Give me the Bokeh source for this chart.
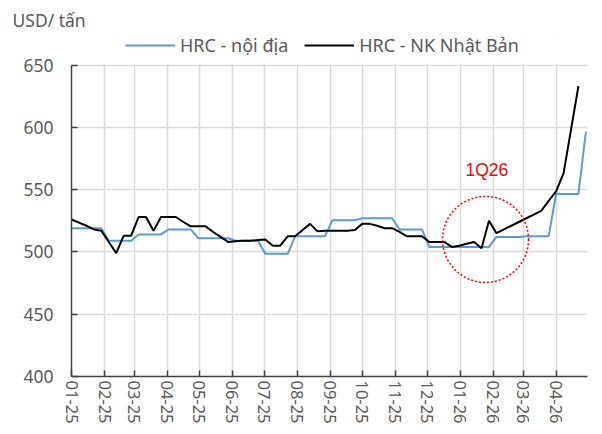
from datetime import datetime, timedelta
from bokeh.plotting import figure
from bokeh.models import (ColumnDataSource, Legend, LegendItem, Label, FixedTicker,
                          DatetimeTickFormatter, Range1d, BoxAnnotation)
from bokeh.embed import file_html
from bokeh.resources import INLINE

# ---------------- data ----------------
start_date = datetime(2025, 1, 1)
week_dates = [start_date + timedelta(days=7 * i) for i in range(70)]

hrc_noi_dia = [519, 519, 519, 519, 519, 509, 509, 509, 509, 514,
               514, 514, 514, 518, 518, 518, 518, 511, 511, 511,
               511, 511, 509, 509, 509, 509, 498.5, 498.5, 498.5, 498.5,
               512.5, 512.5, 512.5, 512.5, 512.5, 525.5, 525.5, 525.5, 525.5, 527,
               527, 527, 527, 527, 518, 518, 518, 518, 504, 504,
               504, 504, 504, 504, 504, 504, 504, 512, 512, 512,
               512, 512.5, 512.5, 512.5, 512.5, 546.5, 546.5, 546.5, 546.5, 596.5]

hrc_nk_nhat_ban = [526, 523.5, 521, 518, 517, 508, 499, 513, 513, 528,
                   528, 517, 528, 528, 528, 524, 520.5, 520.5, 520.5, 516,
                   512, 508, 508.5, 509, 509, 509.5, 510, 505, 505, 512.5,
                   512.5, 517.5, 522.5, 516.5, 517, 517, 517, 517, 517.5, 522.5,
                   522.5, 521, 519, 519, 516, 512.5, 512.5, 512.5, 508, 508,
                   508, 504, 505, 506.5, 508, 503, 525, 515, 518, 521,
                   524, 527, 530, 533, 541, 548.5, 563, 598, 633, float("nan")]

month_ticks = [datetime(2025 + m // 12, m % 12 + 1, 1) for m in range(16)]
y_ticks = [400, 450, 500, 550, 600, 650]
y_min, y_max = 400, 650
series_labels = ["HRC - nội địa", "HRC - NK Nhật Bản"]
unit_label = "USD/ tấn"
note_text = "1Q26"
note_pos = (datetime(2026, 1, 26), 565.5)
circle_center = (datetime(2026, 1, 24, 18), 510)
circle_radius_px = 43
x_start = datetime(2025, 1, 1)
x_end = datetime(2026, 4, 30, 12)

# ---------------- layout constants ----------------
FONT = "Noto Sans"
GRAY = "#595959"
TOP_PAD = 32          # px above the frame (title lives there)
FRAME_TOP_VALUE_PX = 64.5
FRAME_BOTTOM_PX = 376
PX_PER_UNIT = (FRAME_BOTTOM_PX - FRAME_TOP_VALUE_PX) / (y_max - y_min)
y_view_top = y_max + (FRAME_TOP_VALUE_PX - TOP_PAD) / PX_PER_UNIT   # room for legend row

src = ColumnDataSource(dict(date=week_dates, noi=hrc_noi_dia, nk=hrc_nk_nhat_ban))

p = figure(width=602, height=434, x_axis_type="datetime",
           output_backend="svg", toolbar_location=None,
           x_range=Range1d(x_start, x_end), y_range=Range1d(y_min, y_view_top),
           min_border_left=71, min_border_right=15, min_border_top=TOP_PAD,
           min_border_bottom=434 - FRAME_BOTTOM_PX)
p.outline_line_color = None
p.background_fill_color = "white"
p.border_fill_color = "white"

p.title.text = unit_label
p.title.text_font = FONT
p.title.text_font_size = "17.5px"
p.title.text_font_style = "normal"
p.title.text_color = GRAY
p.title.align = "left"
p.title.offset = -59
p.title.standoff = 2

epoch = datetime(1970, 1, 1)
tick_ms = [(d - epoch).total_seconds() * 1000 for d in month_ticks]
p.xaxis.ticker = FixedTicker(ticks=tick_ms)
p.xaxis.formatter = DatetimeTickFormatter(days="%m-%y", months="%m-%y", years="%m-%y",
                                          hours="%m-%y", context=None)
p.xaxis.major_label_orientation = "vertical"
p.yaxis.ticker = FixedTicker(ticks=y_ticks)
p.yaxis.bounds = (y_min, y_max)

for ax in (p.xaxis, p.yaxis):
    ax.axis_line_color = "#404040"
    ax.axis_line_width = 1.5
    ax.major_tick_line_color = "#404040"
    ax.major_tick_line_width = 1.5
    ax.major_tick_out = 0
    ax.major_tick_in = 6
    ax.minor_tick_line_color = None
    ax.major_label_text_font = FONT
    ax.major_label_text_color = GRAY
p.yaxis.major_label_text_font_size = "17.5px"
p.yaxis.major_label_standoff = 18
p.xaxis.major_label_text_font_size = "16.5px"
p.xaxis.major_label_standoff = 4

p.xgrid.grid_line_color = "#d9d9d9"
p.ygrid.grid_line_color = "#d9d9d9"
p.xgrid.grid_line_width = 1.5
p.ygrid.grid_line_width = 1.5

# white band that hides grid above the top value (legend row area)
p.add_layout(BoxAnnotation(bottom=y_max + 0.6, fill_color="white", fill_alpha=1,
                           line_color=None, level="underlay"))

r_noi = p.line("date", "noi", source=src, line_color="#5B9BD5", line_width=2)
r_nk = p.line("date", "nk", source=src, line_color="black", line_width=2)

legend = Legend(items=[LegendItem(label=series_labels[0], renderers=[r_noi]),
                       LegendItem(label=series_labels[1], renderers=[r_nk])],
                location=(54, 319), orientation="horizontal",
                border_line_color=None, background_fill_alpha=0,
                padding=0, margin=0, spacing=16, label_standoff=5,
                glyph_width=50, glyph_height=20, label_height=20,
                label_text_font=FONT, label_text_font_size="18px",
                label_text_color=GRAY)
p.add_layout(legend, "center")

p.circle(x=[circle_center[0]], y=[circle_center[1]], radius=circle_radius_px,
         radius_units="screen", fill_color=None, line_color="red",
         line_dash="2 2", line_width=1.5)
p.add_layout(Label(x=note_pos[0], y=note_pos[1], text=note_text,
                   text_font="Liberation Sans", text_font_size="17.5px",
                   text_color="red", text_align="center", text_baseline="middle"))

open("out.html", "w").write(file_html(p, INLINE))
